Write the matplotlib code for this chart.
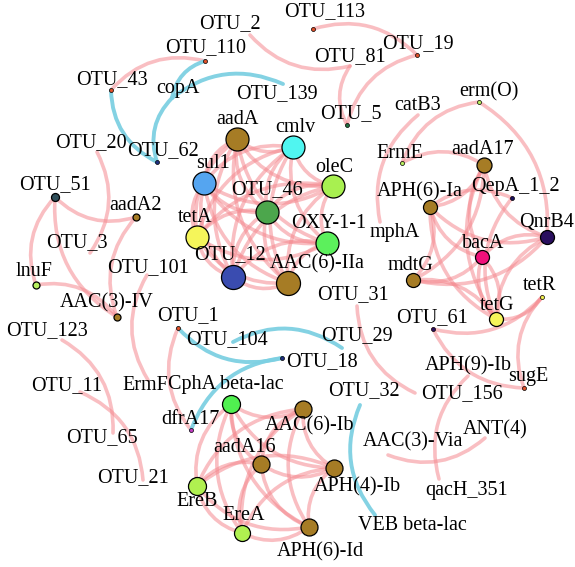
import matplotlib
matplotlib.use("Agg")
import matplotlib.pyplot as plt
from matplotlib.patches import FancyArrowPatch

# node layout (pixel coords of the original picture)
names = ["OTU_2", "OTU_110", "OTU_43", "copA", "OTU_139", "OTU_62", "OTU_113", "OTU_81",
         "OTU_19", "OTU_5", "catB3", "erm(O)", "ErmE", "aadA17", "QepA_1_2", "APH(6)-Ia",
         "mphA", "QnrB4", "bacA", "mdtG", "tetR", "tetG", "OTU_61", "OTU_31", "OTU_29",
         "sugE", "APH(9)-Ib", "OTU_156", "ANT(4)", "AAC(3)-Via", "qacH_351", "OTU_32",
         "VEB beta-lac", "aadA", "cmlv", "sul1", "oleC", "OTU_46", "tetA", "OXY-1-1",
         "OTU_12", "AAC(6)-IIa", "OTU_20", "OTU_51", "aadA2", "OTU_3", "lnuF", "AAC(3)-IV",
         "OTU_101", "OTU_123", "OTU_11", "OTU_65", "OTU_21", "ErmF", "OTU_1", "OTU_104",
         "OTU_18", "dfrA17", "CphA beta-lac", "AAC(6)-Ib", "aadA16", "APH(4)-Ib", "EreB",
         "EreA", "APH(6)-Id"]
xs = [250, 205, 111, 172, 283, 157, 313, 350,
      417, 347, 418, 479, 402, 484, 512, 430,
      380, 547, 482, 413, 542, 496, 433, 357, 342,
      524, 468, 415, 485, 388, 439, 360,
      375, 237, 293, 204, 333, 267, 197, 327,
      233, 288, 97, 55, 136, 90, 36, 117,
      147, 62, 80, 113, 143, 148, 178, 233,
      282, 191, 231, 303, 261, 334, 197,
      242, 309]
ys = [35, 61, 90, 98, 84, 162, 29, 66,
      55, 125, 115, 102, 163, 165, 198, 207,
      222, 237, 257, 280, 297, 319, 329, 306, 348,
      388, 376, 393, 438, 455, 479, 405,
      515, 139, 147, 183, 186, 212, 237, 243,
      277, 283, 152, 197, 217, 253, 285, 317,
      275, 340, 392, 433, 480, 380, 328, 342,
      358, 430, 404, 409, 464, 468, 486,
      533, 527]
label_x = [230, 206, 112, 178, 277, 163, 325, 350,
           418, 351, 418, 489, 400, 483, 515, 420,
           395, 547, 483, 410, 540, 497, 432, 353, 357,
           528, 468, 462, 495, 413, 467, 364,
           412, 237, 295, 213, 334, 267, 195, 329,
           230, 317, 91, 55, 136, 77, 34, 107,
           148, 47, 67, 102, 133, 145, 188, 227,
           322, 190, 226, 310, 245, 357, 197,
           244, 320]
label_y = [24, 48, 80, 89, 94, 151, 12, 57,
           44, 114, 106, 92, 153, 150, 187, 192,
           232, 222, 243, 265, 285, 305, 318, 295, 336,
           377, 366, 394, 430, 442, 490, 391,
           525, 119, 127, 163, 167, 190, 217, 224,
           255, 264, 143, 185, 205, 243, 271, 303,
           268, 331, 386, 438, 478, 386, 316, 340,
           362, 420, 385, 426, 447, 487, 502,
           516, 552]

# node diameter in px and fill colour (0 = no marker)
brown = "#A67C25"
diam = [0, 4, 4, 0, 0, 4, 4, 0,
        4, 4, 0, 4, 4, 15, 4, 14,
        0, 14, 14, 14, 4, 14, 4, 0, 0,
        4, 0, 0, 0, 0, 0, 0,
        0, 23, 23, 23, 23, 23, 23, 23,
        24, 24, 0, 8, 7, 0, 7, 7,
        0, 0, 0, 0, 0, 0, 4, 0,
        4, 4, 18, 17, 17, 17, 18,
        16, 17]
colors = [None, "#E0502A", "#E0502A", None, None, "#1F2F80", "#E0502A", None,
          "#E0502A", "#207040", None, "#B8F060", "#B8F060", brown, "#1A1060", brown,
          None, "#2A0F5F", "#F0107A", brown, "#F0F050", "#F5F55A", "#301060", None, None,
          "#E0502A", None, None, None, None, None, None,
          None, brown, "#50F5F0", "#55A5F0", "#A8F050", "#4CA64C", "#F5F55A", "#5CF05C",
          "#3A4CB0", brown, None, "#2F4F5A", brown, None, "#B8F060", brown,
          None, None, None, None, None, None, "#E0502A", None,
          "#1F2F80", "#C03CC0", "#50F050", brown, brown, brown, "#B0F050",
          "#B0F050", brown]

central = ["aadA", "cmlv", "sul1", "oleC", "OTU_46", "tetA", "OXY-1-1", "OTU_12", "AAC(6)-IIa"]
lower = ["CphA beta-lac", "AAC(6)-Ib", "aadA16", "APH(4)-Ib", "EreB", "EreA", "APH(6)-Id"]

pink_edges = [
    ("OTU_19", "OTU_113"), ("OTU_2", "OTU_81"), ("OTU_81", "OTU_5"), ("OTU_19", "OTU_5"),
    ("OTU_110", "OTU_43"), ("OTU_3", "OTU_20"), ("OTU_51", "lnuF"), ("OTU_51", "aadA2"),
    ("OTU_51", "AAC(3)-IV"), ("AAC(3)-IV", "lnuF"), ("aadA2", "AAC(3)-IV"),
    ("OTU_101", "ErmF"), ("OTU_65", "OTU_123"), ("OTU_21", "OTU_11"), ("OTU_1", "dfrA17"),
    ("OTU_31", "OTU_156"), ("AAC(3)-Via", "ANT(4)"), ("APH(9)-Ib", "qacH_351"),
    ("OTU_61", "sugE"), ("tetR", "sugE"), ("OTU_61", "tetR"), ("tetG", "tetR"),
    ("catB3", "mphA"), ("erm(O)", "ErmE"), ("QnrB4", "erm(O)"), ("aadA17", "ErmE"),
    ("APH(6)-Ia", "aadA17"), ("aadA17", "QnrB4"), ("aadA17", "bacA"), ("aadA17", "tetG"),
    ("mdtG", "aadA17"), ("APH(6)-Ia", "QnrB4"), ("APH(6)-Ia", "bacA"), ("APH(6)-Ia", "tetG"),
    ("QepA_1_2", "tetG"), ("QepA_1_2", "APH(6)-Ia"), ("QnrB4", "bacA"), ("mdtG", "QnrB4"),
    ("QnrB4", "tetG"), ("mdtG", "bacA"), ("bacA", "tetG"), ("tetG", "bacA"), ("tetG", "mdtG"),
    ("mdtG", "APH(6)-Ia"),
]
for i in range(len(central)):
    for j in range(i + 1, len(central)):
        pink_edges.append((central[i], central[j]))
for i in range(len(lower)):
    for j in range(i + 1, len(lower)):
        pink_edges.append((lower[i], lower[j]))

blue_edges = [("OTU_43", "OTU_62"), ("copA", "OTU_62"), ("OTU_110", "copA"),
              ("OTU_139", "copA"), ("OTU_1", "OTU_18"), ("OTU_29", "OTU_104"),
              ("OTU_18", "dfrA17"), ("OTU_32", "VEB beta-lac")]

pos = {n: (x, y) for n, x, y in zip(names, xs, ys)}

fig = plt.figure(figsize=(5.75, 5.67), dpi=100)
ax = fig.add_axes([0, 0, 1, 1])
ax.set_xlim(0, 575)
ax.set_ylim(567, 0)
ax.axis("off")


def draw_edge(a, b, color, lw, alpha, rad=0.3):
    p = FancyArrowPatch(pos[a], pos[b], connectionstyle=f"arc3,rad={rad}",
                        arrowstyle="-", color=color, lw=lw, alpha=alpha,
                        shrinkA=0, shrinkB=0, zorder=1)
    ax.add_patch(p)


for a, b in pink_edges:
    draw_edge(a, b, "#F58A90", 2.6, 0.55)
for a, b in blue_edges:
    draw_edge(a, b, "#7DD0E2", 2.8, 0.95)

for n, x, y, d, c in zip(names, xs, ys, diam, colors):
    if d > 0:
        ax.scatter([x], [y], s=(d * 0.72) ** 2, c=c, edgecolors="black",
                   linewidths=0.9 if d > 6 else 0.5, zorder=3)

for n, lx, ly in zip(names, label_x, label_y):
    ax.text(lx, ly, n, ha="center", va="center", fontsize=14.5,
            family="Liberation Serif", zorder=4)

fig.savefig("out.png", dpi=100)
